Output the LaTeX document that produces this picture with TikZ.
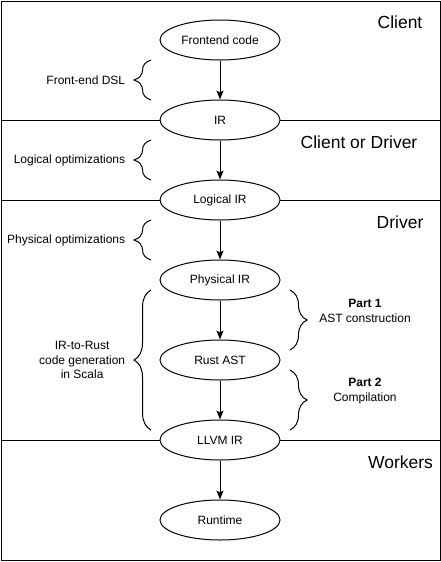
\documentclass[tikz,border=0pt]{standalone}
\usepackage{fontspec}
\setmainfont{Liberation Sans}
\usetikzlibrary{shapes.geometric,arrows.meta,decorations.pathreplacing}

\tikzset{
	stage/.style={ellipse, draw, fill=white, minimum width=120pt, minimum height=40pt, inner sep=0pt, font=\fontsize{12}{14}\selectfont},
	flow/.style={-{Stealth[length=9pt, width=7pt, inset=2pt]}},
	curly/.style={decorate, decoration={brace, amplitude=17pt, aspect=0.5}},
	zone/.style={font=\fontsize{17.5}{20}\selectfont},
	note/.style={font=\fontsize{12}{14.5}\selectfont, align=center},
}

\begin{document}
\begin{tikzpicture}[x=1pt, y=-1pt, line width=1pt]
		%%%%% START %%%%%
		\useasboundingbox (0,0) rectangle (441,562);
		
		\draw (1,1) rectangle (440,560.5);
		\draw (1,120) -- (440,120);
		\draw (1,200) -- (440,200);
		\draw (1,440) -- (440,440);
		
		\node[stage] (front) at (220,40) {Frontend code};
		\node[stage] (ir) at (220,120) {IR};
		\node[stage] (logical) at (220,200) {Logical IR};
		\node[stage] (physical) at (220,280) {Physical IR};
		\node[stage] (rustast) at (220,360) {Rust AST};
		\node[stage] (llvm) at (220,440) {LLVM IR};
		\node[stage] (runtime) at (220,520) {Runtime};
		
		\draw[flow] (front) -- (ir);
		\draw[flow] (ir) -- (logical);
		\draw[flow] (logical) -- (physical);
		\draw[flow] (physical) -- (rustast);
		\draw[flow] (rustast) -- (llvm);
		\draw[flow] (llvm) -- (runtime);
		
		\node[zone] (client) at (400,22) {Client};
		\node[zone] (clientdriver) at (359,142) {Client or Driver};
		\node[zone] (driver) at (400,222) {Driver};
		\node[zone] (workers) at (400.5,462) {Workers};
		
		\draw[curly] (151,100) -- (151,60);
		\node[note, anchor=east] (dsl) at (129,80) {Front-end DSL};
		\draw[curly] (151,180) -- (151,140);
		\node[note, anchor=east] (logopt) at (129,160) {Logical optimizations};
		\draw[curly] (151,260) -- (151,220);
		\node[note, anchor=east] (physopt) at (129,240) {Physical optimizations};
		\draw[curly] (151,430) -- (151,290);
		\node[note, anchor=east] (codegen) at (129,360) {IR-to-Rust\\code generation\\in Scala};
		
		\draw[curly] (290,290) -- (290,350);
		\node[note] (part1) at (365,311) {\textbf{Part 1}\\AST construction};
		\draw[curly] (290,370) -- (290,430);
		\node[note] (part2) at (365,391) {\textbf{Part 2}\\Compilation};
		%%%%% END %%%%%
\end{tikzpicture}
\end{document}
